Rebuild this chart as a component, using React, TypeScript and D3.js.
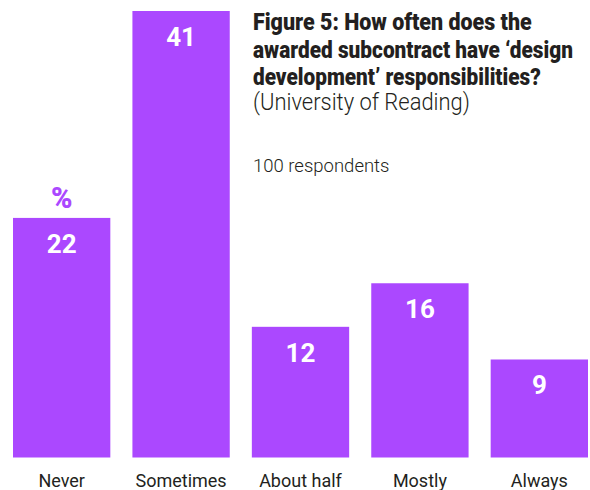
import { useEffect, useRef } from 'react';
import * as d3 from 'd3';

const categories = ['Never', 'Sometimes', 'About half', 'Mostly', 'Always'];
const percents = [22, 41, 12, 16, 9];
const titleLines = [
  'Figure 5: How often does the',
  'awarded subcontract have \u2018design',
  'development\u2019 responsibilities?',
];
const sourceLabel = '(University of Reading)';
const respondentsLabel = '100 respondents';

const PURPLE = '#ab48ff';
const INK = '#231f20';
const FONT = "Roboto, 'Noto Sans', sans-serif";

// squeeze a text horizontally to a target width (condensed look)
function fitWidth(node: SVGTextElement, x: number, y: number, target: number) {
  const natural = node.getComputedTextLength() || target;
  const sx = Math.min(1, target / natural);
  node.setAttribute('transform', `translate(${x},${y}) scale(${sx},1)`);
}

export default function App() {
  const svgRef = useRef<SVGSVGElement | null>(null);

  useEffect(() => {
    if (!svgRef.current) return;
    const width = 590;
    const height = 490;
    const svg = d3.select(svgRef.current).attr('width', width).attr('height', height);
    svg.selectAll('*').remove();

    const x = d3.scaleBand<string>().domain(categories).range([13, 588]).paddingInner(0.185).paddingOuter(0);
    const y = d3.scaleLinear().domain([0, 41]).range([457.5, 11]);

    svg
      .append('g')
      .selectAll('rect')
      .data(percents)
      .join('rect')
      .attr('x', (_, i) => x(categories[i])!)
      .attr('y', (d) => y(d))
      .attr('width', x.bandwidth())
      .attr('height', (d) => y(0) - y(d))
      .attr('fill', PURPLE);

    // value labels inside bars
    svg
      .append('g')
      .selectAll('text')
      .data(percents)
      .join('text')
      .attr('x', (_, i) => x(categories[i])! + x.bandwidth() / 2)
      .attr('y', (d) => y(d) + 35)
      .attr('text-anchor', 'middle')
      .attr('font-family', FONT)
      .attr('font-weight', 700)
      .attr('font-size', 26)
      .attr('fill', '#fff')
      .text((d) => d);

    // percent sign above first bar
    svg
      .append('text')
      .attr('x', x(categories[0])! + x.bandwidth() / 2)
      .attr('y', y(percents[0]) - 10)
      .attr('text-anchor', 'middle')
      .attr('font-family', FONT)
      .attr('font-weight', 900)
      .attr('font-size', 29)
      .attr('fill', PURPLE)
      .text('%');

    // category axis labels
    svg
      .append('g')
      .selectAll('text')
      .data(categories)
      .join('text')
      .attr('x', (d) => x(d)! + x.bandwidth() / 2)
      .attr('y', 487)
      .attr('text-anchor', 'middle')
      .attr('font-family', FONT)
      .attr('font-weight', 400)
      .attr('font-size', 18)
      .attr('fill', INK)
      .text((d) => d);

    // title block
    const titleWidths = [279, 320, 288];
    svg
      .append('g')
      .selectAll('text')
      .data(titleLines)
      .join('text')
      .attr('font-family', FONT)
      .attr('font-weight', 900)
      .attr('font-size', 23)
      .attr('fill', INK)
      .text((d) => d)
      .each(function (_, i) {
        fitWidth(this as SVGTextElement, 253, 30 + i * 27.5, titleWidths[i]);
      });

    const source = svg
      .append('text')
      .attr('font-family', FONT)
      .attr('font-weight', 300)
      .attr('font-size', 23)
      .attr('fill', INK)
      .text(sourceLabel);
    fitWidth(source.node()!, 253, 110, 217);

    const respondents = svg
      .append('text')
      .attr('font-family', FONT)
      .attr('font-weight', 300)
      .attr('font-size', 18.5)
      .attr('fill', INK)
      .text(respondentsLabel);
    fitWidth(respondents.node()!, 253, 172, 137);
  }, []);

  return <svg ref={svgRef} style={{ position: 'absolute', left: 0, top: 0 }}></svg>;
}
